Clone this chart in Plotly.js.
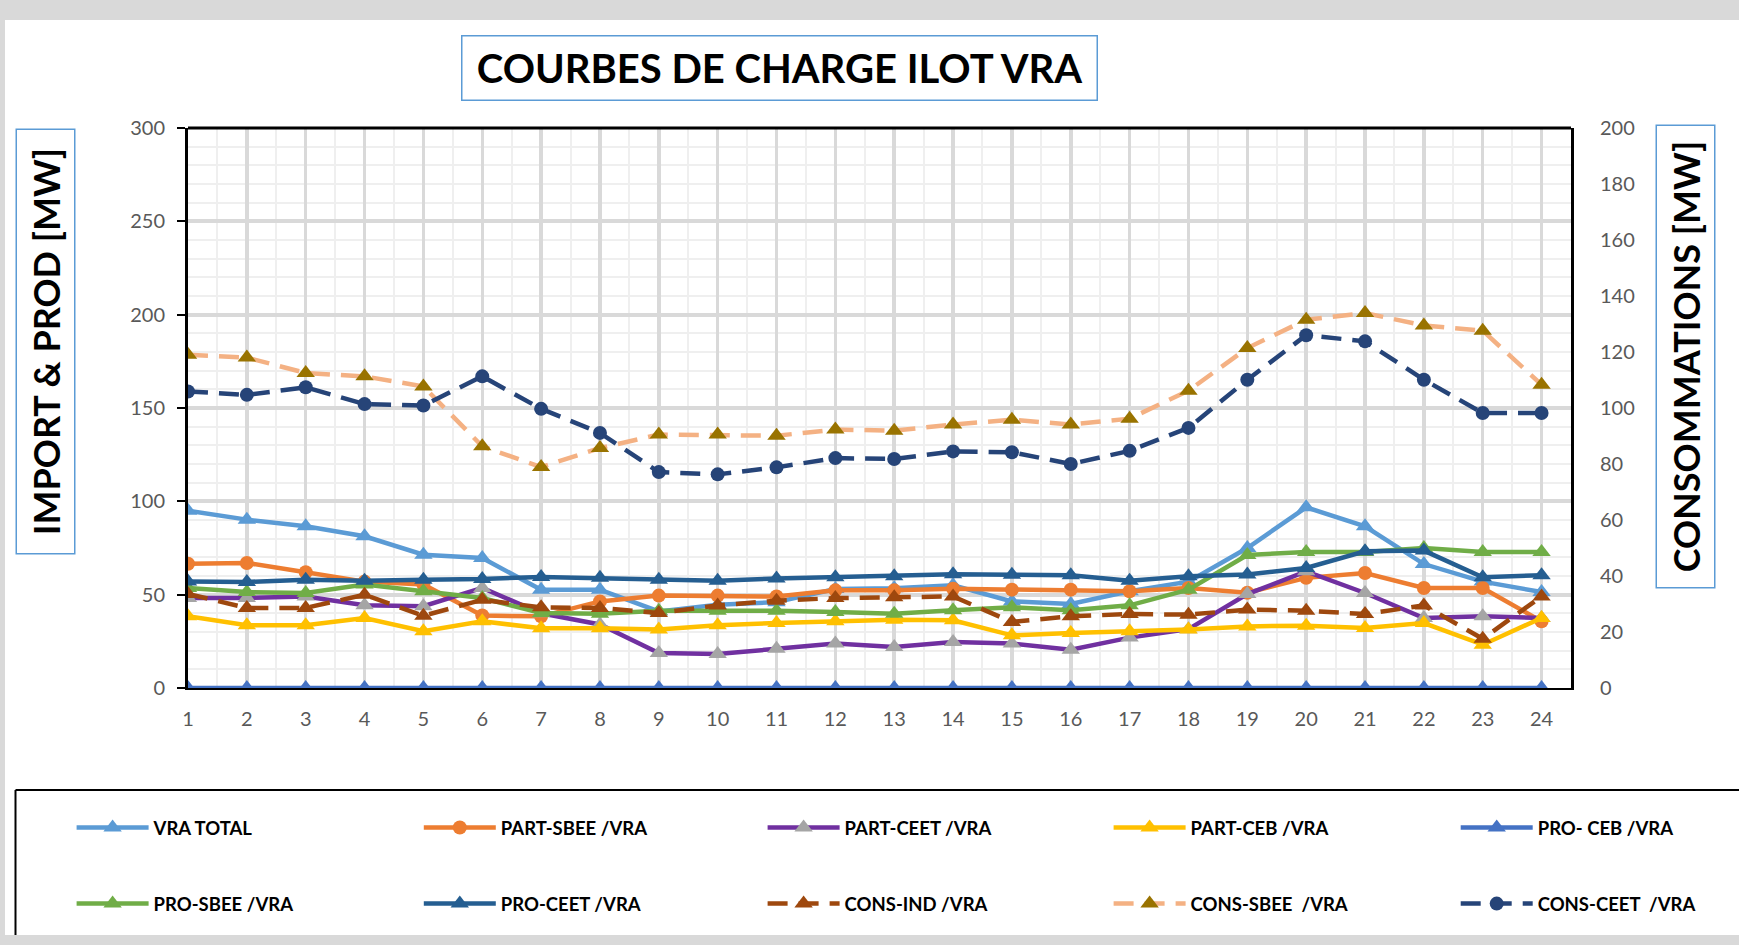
<!DOCTYPE html>
<html><head><meta charset="utf-8">
<script src="https://cdn.plot.ly/plotly-3.0.1.min.js"></script>
<style>html,body{margin:0;padding:0;background:#fff;overflow:hidden}#chart{width:1739px;height:945px}</style>
</head><body><div id="chart"></div>
<script>
// ---------- DATA ----------
const hours = [1,2,3,4,5,6,7,8,9,10,11,12,13,14,15,16,17,18,19,20,21,22,23,24];
// left axis (IMPORT & PROD [MW])
const vraTotal = [95, 90.2, 86.6, 81.3, 71.4, 69.6, 52.7, 52.7, 41, 44.6, 46, 53, 53.5, 55, 46.4, 45, 51.8, 57, 75, 96.8, 86.6, 66.4, 57, 51.4];
const partSbee = [66.6, 67, 62, 57, 55.4, 38.8, 38.4, 46.4, 49.5, 49.5, 49, 52.3, 52.3, 53.2, 52.7, 52.7, 51.8, 53.6, 51, 59, 61.6, 53.6, 53.6, 35.7];
const partCeet = [48.2, 48.2, 49, 44.3, 43.8, 53.6, 40, 34, 18.8, 18.2, 21, 23.8, 22, 24.6, 23.8, 20.5, 27, 31.5, 50.3, 62.5, 50.9, 37.5, 38.4, 37.5];
const partCeb  = [38.4, 33.6, 33.6, 37.5, 30.4, 35.7, 32, 32, 31.3, 33.6, 34.8, 35.7, 36.6, 36.3, 28.2, 29.5, 30.4, 31.3, 33, 33.4, 32.1, 34.8, 23.2, 37.5];
const proCeb   = [0,0,0,0,0,0,0,0,0,0,0,0,0,0,0,0,0,0,0,0,0,0,0,0];
const proSbee  = [53.6, 51.4, 50.9, 55.4, 51.8, 48.2, 40.2, 39.8, 41.4, 41.4, 41.4, 40.7, 39.8, 41.6, 43.2, 41.6, 44.3, 52.7, 71.2, 72.9, 72.9, 75, 72.9, 72.9];
const proCeet  = [57, 56.8, 58, 57.5, 58, 58.4, 59.5, 59, 58, 57.5, 58.6, 59.3, 59.8, 61, 60.7, 60.4, 57.5, 59.8, 60.8, 64.3, 73.2, 73.6, 59.3, 60.4];
// right axis (CONSOMMATIONS [MW])
const consInd  = [33.6, 28.6, 28.6, 33.3, 25.8, 31.5, 28.8, 28.6, 26.8, 29.5, 31.2, 32.1, 32.4, 32.7, 23.6, 25.6, 26.4, 26.2, 28, 27.6, 26.4, 29.5, 17.6, 32.7];
const consSbee = [119, 118, 112.5, 111.3, 107.7, 86.3, 78.9, 85.7, 90.5, 90.5, 90.1, 92.3, 91.9, 94.1, 95.8, 94.1, 96.2, 106.2, 121.4, 131.5, 133.9, 129.5, 127.6, 108.3];
const consCeet = [105.9, 104.7, 107.4, 101.4, 100.9, 111.3, 99.7, 91.1, 77.1, 76.3, 78.8, 82.1, 81.8, 84.5, 84.2, 80, 84.7, 92.9, 110.1, 126, 123.8, 110.1, 98.2, 98.2];

const seriesNames = ["VRA TOTAL","PART-SBEE /VRA","PART-CEET /VRA","PART-CEB /VRA","PRO- CEB /VRA",
                     "PRO-SBEE /VRA","PRO-CEET /VRA","CONS-IND /VRA","CONS-SBEE  /VRA","CONS-CEET  /VRA"];
const titleText = "COURBES DE CHARGE ILOT VRA";
const leftTitle = "IMPORT & PROD [MW]";
const rightTitle = "CONSOMMATIONS [MW]";

// ---------- LAYOUT HELPERS ----------
const FW = 1739, FH = 945, ML = 188, MR = 168, MT = 128, MB = 257;
const PW = FW - ML - MR, PH = FH - MT - MB;
const px = x => (x - ML) / PW;
const py = y => 1 - (y - MT) / PH;
const FONT = 'Lato, "Open Sans", sans-serif';

const styles = [
  {data: vraTotal, line:'#5B9BD5', mk:'#5B9BD5', sym:'triangle-up', dash:'solid', ax:'y'},
  {data: partSbee, line:'#ED7D31', mk:'#ED7D31', sym:'circle', dash:'solid', ax:'y'},
  {data: partCeet, line:'#7030A0', mk:'#A5A5A5', sym:'triangle-up', dash:'solid', ax:'y'},
  {data: partCeb,  line:'#FFC000', mk:'#FFC000', sym:'triangle-up', dash:'solid', ax:'y'},
  {data: proCeb,   line:'#4472C4', mk:'#4472C4', sym:'triangle-up', dash:'solid', ax:'y'},
  {data: proSbee,  line:'#70AD47', mk:'#70AD47', sym:'triangle-up', dash:'solid', ax:'y'},
  {data: proCeet,  line:'#255E91', mk:'#255E91', sym:'triangle-up', dash:'solid', ax:'y'},
  {data: consInd,  line:'#9E480E', mk:'#9E480E', sym:'triangle-up', dash:'20px,11px', ax:'y2'},
  {data: consSbee, line:'#F4B183', mk:'#997300', sym:'triangle-up', dash:'20px,11px', ax:'y2'},
  {data: consCeet, line:'#264478', mk:'#264478', sym:'circle', dash:'20px,11px', ax:'y2'}
];
const legendIds = ['legend','legend2','legend3','legend4','legend5'];

const traces = styles.map((s, i) => ({
  type:'scatter', mode:'lines+markers', x: hours, y: s.data, name: seriesNames[i],
  yaxis: s.ax, legend: legendIds[i % 5], legendgroup: 'g' + i,
  line:{color: s.line, width: 4.5, dash: s.dash},
  marker:{color: s.mk, symbol: s.sym, size: s.sym === 'circle' ? 14 : 16},
  hoverinfo:'x+y+name'
}));

const colStarts = [77.6, 424.8, 768.6, 1114.6, 1461.7];
const legends = {};
colStarts.forEach((c, k) => {
  legends[legendIds[k]] = {
    x: px(c - 6), y: py(809), xanchor:'left', yanchor:'top', orientation:'v',
    bgcolor:'rgba(0,0,0,0)', borderwidth:0, tracegroupgap: 49, itemwidth: 72,
    font:{family: FONT, size: 18.5, color:'#000', weight:'bold'}
  };
});

const layout = Object.assign({
  width: FW, height: FH,
  margin:{l: ML, r: MR, t: MT, b: MB, pad: 0},
  paper_bgcolor:'#D9D9D9', plot_bgcolor:'#FFFFFF',
  font:{family: FONT},
  showlegend: true,
  xaxis:{
    range:[1, 24.5], tickmode:'linear', tick0:1, dtick:1,
    showgrid:true, gridcolor:'#D9D9D9', gridwidth:3.5,
    minor:{tick0:1, dtick:0.5, showgrid:true, gridcolor:'#EFEFEF', gridwidth:2},
    showline:true, linecolor:'#000', linewidth:2, zeroline:false,
    ticks:'', ticklabelstandoff: 12,
    tickfont:{family: FONT, size: 20, color:'#595959'}, fixedrange:true
  },
  yaxis:{
    range:[0, 300], tickmode:'linear', tick0:0, dtick:50,
    showgrid:true, gridcolor:'#D9D9D9', gridwidth:4,
    minor:{tick0:0, dtick:10, showgrid:true, gridcolor:'#EFEFEF', gridwidth:2},
    showline:true, linecolor:'#000', linewidth:3, zeroline:false,
    ticks:'outside', ticklen:8, tickwidth:2, tickcolor:'#000', ticklabelstandoff: 8,
    tickfont:{family: FONT, size: 20, color:'#595959'}, fixedrange:true
  },
  yaxis2:{
    overlaying:'y', side:'right', range:[0, 200], tickmode:'linear', tick0:0, dtick:20,
    showgrid:false, showline:true, linecolor:'#000', linewidth:3, zeroline:false,
    ticks:'', ticklabelstandoff: 22,
    tickfont:{family: FONT, size: 20, color:'#595959'}, fixedrange:true
  },
  shapes:[
    {type:'rect', xref:'paper', yref:'paper', layer:'below', x0: px(5), x1: px(1745), y0: py(20), y1: py(935),
     fillcolor:'#FFFFFF', line:{width:0}},
    {type:'line', xref:'paper', yref:'paper', x0:0, x1:1, y0:1, y1:1, line:{color:'#000', width:3}},
    {type:'line', xref:'paper', yref:'paper', x0: px(15.5), x1: px(1745), y0: py(790), y1: py(790), line:{color:'#000', width:2}},
    {type:'line', xref:'paper', yref:'paper', x0: px(15.5), x1: px(15.5), y0: py(790), y1: py(935), line:{color:'#000', width:2}}
  ],
  annotations:[
    {text: titleText, xref:'paper', yref:'paper', x: px(779), y: py(67.5), xanchor:'center', yanchor:'middle',
     showarrow:false, width: 634, height: 63, bordercolor:'#5B9BD5', borderwidth:1.5, borderpad:0,
     font:{family: FONT, size: 40, color:'#000', weight:'bold'}},
    {text: leftTitle, xref:'paper', yref:'paper', x: px(45.5), y: py(342), xanchor:'center', yanchor:'middle',
     textangle:-90, showarrow:false, width: 423, height: 57, bordercolor:'#5B9BD5', borderwidth:1.5, borderpad:0,
     font:{family: FONT, size: 36, color:'#000', weight:'bold'}},
    {text: rightTitle, xref:'paper', yref:'paper', x: px(1685), y: py(356.5), xanchor:'center', yanchor:'middle',
     textangle:-90, showarrow:false, width: 461, height: 57, bordercolor:'#5B9BD5', borderwidth:1.5, borderpad:0,
     font:{family: FONT, size: 36, color:'#000', weight:'bold'}}
  ]
}, legends);

Plotly.newPlot('chart', traces, layout, {displayModeBar:false, responsive:false, staticPlot:true});
</script>
</body></html>
